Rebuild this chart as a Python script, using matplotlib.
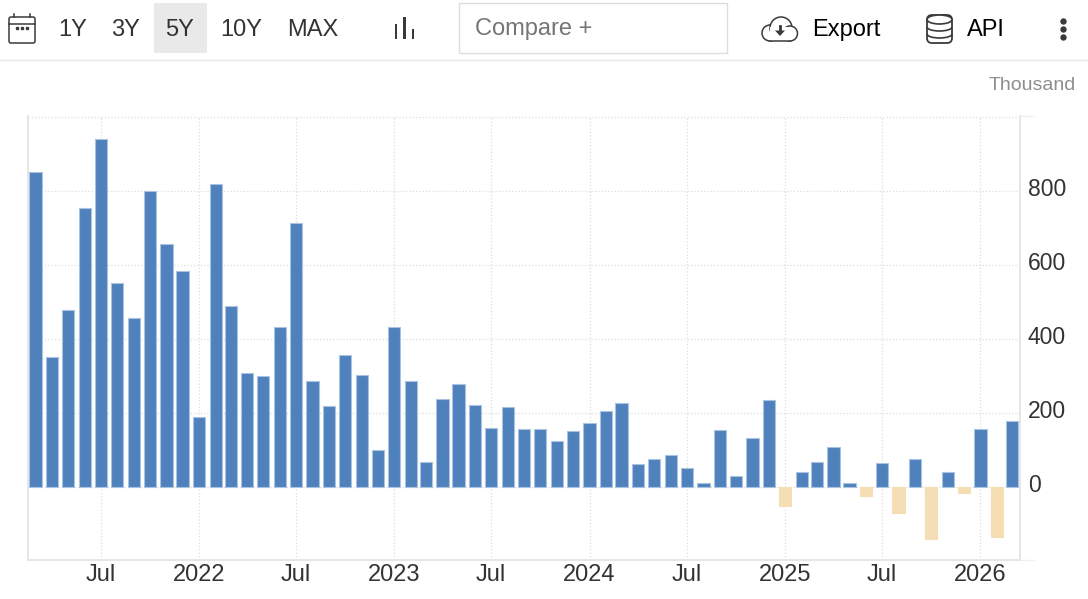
#!/usr/bin/env python3
import matplotlib
matplotlib.use("Agg")
import matplotlib.pyplot as plt
import matplotlib.patches as patches
import matplotlib.transforms as transforms
import pandas as pd

plt.rcParams['font.family'] = ['Liberation Sans', 'DejaVu Sans']

W, H = 1088, 599

# monthly values in thousands, Mar 2021 to Mar 2026
values = [853, 353, 480, 755, 942, 553, 458, 801, 658, 585,
          190, 820, 490, 310, 301, 434, 715, 288, 220, 358, 304, 101,
          434, 288, 69, 239, 280, 223, 161, 218, 158, 158, 126, 153,
          174, 207, 228, 64, 77, 88, 53, 12, 155, 32, 134, 236,
          -50, 42, 69, 109, 12, -22, 66, -70, 77, -138, 42, -16,
          158, -133, 180]
first_month = "2021-03-01"

x_tick_dates = ["2021-07-01", "2022-01-01", "2022-07-01", "2023-01-01", "2023-07-01",
                "2024-01-01", "2024-07-01", "2025-01-01", "2025-07-01", "2026-01-01"]
x_tick_labels = ["Jul", "2022", "Jul", "2023", "Jul", "2024", "Jul", "2025", "Jul", "2026"]
y_ticks = [0, 200, 400, 600, 800]
range_buttons = ["1Y", "3Y", "5Y", "10Y", "MAX"]

BLUE = "#4f81bd"
WHEAT = "#f5deb3"
TEXT = "#333333"
LINE = "#e6e6e6"
ICON = "#3a3a3a"


def draw_toolbar(tb):
    # separator under the toolbar
    tb.plot([0, W], [59.5, 59.5], color="#e8e8e8", lw=1)

    # calendar icon
    tb.add_patch(patches.FancyBboxPatch((9, 17), 26, 26, boxstyle="round,pad=0,rounding_size=2",
                                        fc="none", ec=ICON, lw=1.1))
    tb.plot([9, 35], [23.5, 23.5], color=ICON, lw=1.1)
    tb.plot([14, 14], [13.5, 17], color=ICON, lw=1.1)
    tb.plot([30, 30], [13.5, 17], color=ICON, lw=1.1)
    tb.plot([17, 22, 27], [28, 28, 28], ls="none", marker="s", ms=1.5, color=ICON)

    # range buttons
    tb.add_patch(patches.Rectangle((154, 3), 53, 50, fc="#e9e9e9", ec="none"))
    for label, xc in zip(range_buttons, [73, 126, 180, 241, 313]):
        tb.text(xc, 30, label, ha="center", va="center", fontsize=17, color=TEXT)

    # chart type icon
    for bx, top in zip([396, 404.5, 413], [24, 17, 29]):
        tb.add_patch(patches.Rectangle((bx - 1.3, top), 2.6, 39 - top, fc=ICON, ec="none"))

    # compare box
    tb.add_patch(patches.Rectangle((458.5, 2.5), 268, 50, fc="white", ec="#dddddd", lw=1))
    tb.text(475, 29, "Compare +", ha="left", va="center", fontsize=17, color="#757575")

    # export cloud
    for cx, cy, r in [(770, 33, 8), (781, 28, 11), (790, 33.5, 7.5)]:
        tb.add_patch(patches.Circle((cx, cy), r, fc="white", ec=ICON, lw=1.1))
    tb.add_patch(patches.Rectangle((770, 27), 20, 13.5, fc="white", ec="none"))
    tb.plot([770, 790], [41, 41], color=ICON, lw=1.1)
    tb.plot([780, 780], [26, 31], color=ICON, lw=2)
    tb.add_patch(patches.Polygon([[775, 30.5], [785, 30.5], [780, 36]], fc=ICON, ec="none"))
    tb.text(812, 30, "Export", ha="left", va="center", fontsize=17, color="black")

    # api database
    tb.add_patch(patches.FancyBboxPatch((927, 15), 25, 28, boxstyle="round,pad=0,rounding_size=5",
                                        fc="none", ec=ICON, lw=1.3))
    tb.add_patch(patches.Ellipse((939.5, 19.5), 25, 9, fc="white", ec=ICON, lw=1.2))
    for ly in [27, 34]:
        tb.add_patch(patches.Arc((939.5, ly), 25, 8, theta1=0, theta2=180, ec=ICON, lw=1.2))
    tb.text(967, 30, "API", ha="left", va="center", fontsize=17, color="black")

    # overflow menu
    tb.plot([1063, 1063, 1063], [20.5, 28.5, 36.5], ls="none", marker="o", ms=4.6, color=ICON, mew=0)

    tb.text(1076, 85.5, "Thousand", ha="right", va="center", fontsize=14, color="#8e8e8e")


def main():
    fig = plt.figure(figsize=(W / 100, H / 100), dpi=100, facecolor="white")

    tb = fig.add_axes([0, 0, 1, 1])
    tb.set_xlim(0, W)
    tb.set_ylim(H, 0)
    tb.axis("off")
    draw_toolbar(tb)

    ax = fig.add_axes([28 / W, 1 - 560 / H, (1020 - 28) / W, (560 - 116) / H])
    ax.patch.set_alpha(0)

    months = pd.date_range(first_month, periods=len(values), freq="MS")
    bar_colors = [BLUE if v >= 0 else WHEAT for v in values]
    edge_colors = ["#a9c3e0" if v >= 0 else WHEAT for v in values]
    ax.bar(months, values, width=23, color=bar_colors, edgecolor=edge_colors, linewidth=0.8, zorder=3)

    ax.set_xlim(pd.Timestamp("2021-02-15"), pd.Timestamp("2026-03-16"))
    ax.set_ylim(-196, 1004)

    ax.set_xticks(pd.to_datetime(x_tick_dates))
    ax.set_xticklabels(x_tick_labels)
    ax.set_yticks(y_ticks + [1000])
    ax.set_yticklabels([str(v) for v in y_ticks] + [""])
    ax.yaxis.tick_right()

    ax.grid(True, color="#dddddd", linestyle=":", linewidth=0.9, zorder=0)
    ax.tick_params(axis="x", length=0, pad=3, labelsize=17, labelcolor=TEXT)
    ax.tick_params(axis="y", length=0, pad=5.5, labelsize=16.5, labelcolor=TEXT)

    # y labels sit a little above their grid lines
    shift = transforms.ScaledTranslation(0, 4 / 100, fig.dpi_scale_trans)
    for label in ax.get_yticklabels():
        label.set_transform(label.get_transform() + shift)

    for side in ["left", "bottom", "right"]:
        ax.spines[side].set_color(LINE)
        ax.spines[side].set_linewidth(1.4)
    ax.spines["top"].set_visible(False)

    # short stubs right of the axis
    tb.plot([1020, 1034], [116, 116], color="#f0f0f0", lw=1)
    tb.plot([1020, 1034], [560, 560], color="#f0f0f0", lw=1)

    fig.savefig("out.png", dpi=100)


if __name__ == '__main__':
    main()
